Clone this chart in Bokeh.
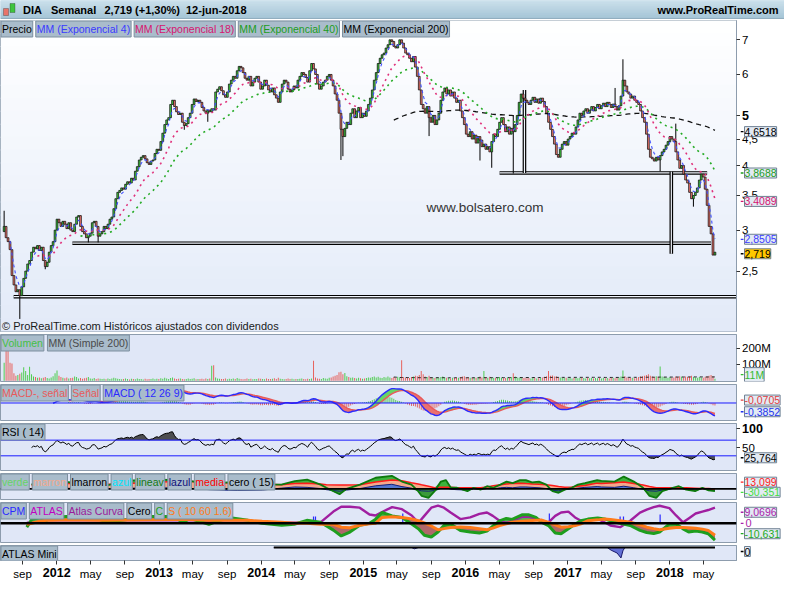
import numpy as np
import pandas as pd
from bokeh.plotting import figure
from bokeh.models import (Range1d, FixedTicker, Label, BoxAnnotation, Span, ColumnDataSource, GridBox,
                          DatetimeAxis)
from bokeh.embed import file_html
from bokeh.resources import INLINE

# ======================= DATA =======================
first_week = "2011-06-27"
first_open = 2.98
closes = [
    3.05, 2.90, 2.85, 2.75, 2.45, 2.35, 2.28, 2.30, 2.24, 2.33,
    2.42, 2.50, 2.58, 2.62, 2.72, 2.78, 2.76, 2.80, 2.74, 2.78,
    2.62, 2.55, 2.60, 2.72, 2.80, 2.85, 3.00, 3.15, 3.10, 3.05,
    3.12, 3.08, 3.02, 3.10, 3.00, 2.98, 3.08, 3.18, 3.20, 3.05,
    2.98, 2.95, 2.90, 2.92, 2.96, 3.10, 3.12, 3.05, 2.92, 2.95,
    2.98, 3.05, 3.02, 3.08, 3.15, 3.18, 3.30, 3.45, 3.55, 3.58,
    3.62, 3.60, 3.68, 3.72, 3.70, 3.78, 3.75, 3.90, 3.98, 4.10,
    4.15, 4.18, 4.12, 4.05, 4.02, 4.08, 4.10, 4.22, 4.30, 4.28,
    4.45, 4.62, 4.80, 4.90, 4.95, 5.25, 5.35, 5.20, 5.08, 5.02,
    5.05, 4.85, 4.78, 4.82, 4.95, 5.05, 5.25, 5.38, 5.32, 5.35,
    5.30, 5.18, 5.10, 5.05, 5.12, 5.08, 5.15, 5.12, 5.55, 5.62,
    5.68, 5.58, 5.48, 5.42, 5.55, 5.75, 5.85, 5.95, 5.90, 6.10,
    6.22, 6.18, 6.05, 5.90, 5.85, 5.95, 5.70, 5.80, 5.90, 5.95,
    5.80, 5.62, 5.70, 5.85, 5.72, 5.60, 5.55, 5.65, 5.48, 5.40,
    5.30, 5.55, 5.75, 5.85, 5.80, 5.62, 5.55, 5.60, 5.70, 5.65,
    5.85, 5.95, 6.05, 6.00, 5.92, 5.80, 6.10, 6.30, 6.15, 6.00,
    5.75, 5.62, 5.70, 5.80, 5.85, 5.95, 6.00, 5.85, 5.70, 5.50,
    5.35, 5.05, 4.70, 4.55, 4.72, 4.85, 4.80, 5.05, 5.15, 4.95,
    5.10, 5.18, 4.95, 5.05, 4.98, 5.10, 5.25, 5.40, 5.60, 5.85,
    6.05, 6.30, 6.45, 6.55, 6.60, 6.75, 6.85, 7.00, 6.95, 6.80,
    6.75, 6.85, 7.00, 6.90, 6.75, 6.60, 6.55, 6.45, 6.35, 6.50,
    6.20, 5.95, 5.60, 5.25, 5.15, 5.05, 5.20, 4.95, 4.85, 5.00,
    4.80, 4.90, 5.05, 5.35, 5.55, 5.65, 5.50, 5.60, 5.45, 5.55,
    5.40, 5.30, 5.35, 5.10, 4.95, 4.80, 4.60, 4.55, 4.65, 4.50,
    4.58, 4.42, 4.55, 4.48, 4.35, 4.40, 4.30, 4.35, 4.25, 4.45,
    4.60, 4.55, 4.70, 4.85, 4.95, 4.80, 4.65, 4.75, 4.60, 4.72,
    4.65, 4.80, 5.00, 5.30, 5.50, 5.40, 5.35, 5.30, 5.25, 5.35,
    5.42, 5.30, 5.38, 5.28, 5.40, 5.32, 5.20, 5.05, 4.85, 4.70,
    4.55, 4.40, 4.20, 4.15, 4.30, 4.40, 4.45, 4.38, 4.50, 4.55,
    4.62, 4.60, 4.75, 4.90, 5.05, 5.00, 5.10, 5.15, 5.05, 5.12,
    5.20, 5.10, 5.18, 5.25, 5.15, 5.22, 5.28, 5.20, 5.30, 5.25,
    5.18, 5.26, 5.20, 5.12, 5.22, 5.45, 5.85, 5.70, 5.55, 5.50,
    5.40, 5.45, 5.35, 5.30, 5.25, 5.10, 4.95, 4.85, 4.60, 4.30,
    4.15, 4.12, 4.08, 4.15, 4.10, 4.18, 4.25, 4.30, 4.38, 4.45,
    4.55, 4.50, 4.45, 4.25, 4.10, 3.95, 4.00, 3.85, 3.75, 3.70,
    3.55, 3.45, 3.50, 3.55, 3.62, 3.75, 3.85, 3.80, 3.60, 3.35,
    3.05, 2.95, 2.684, 2.719,
]
volumes_m = [
    110, 240, 215, 110, 105, 45, 30, 35, 42, 50,
    82, 60, 35, 86, 40, 25, 22, 18, 20, 15,
    18, 22, 16, 14, 20, 28, 45, 63, 30, 22,
    18, 15, 20, 14, 16, 18, 25, 22, 14, 16,
    12, 15, 18, 22, 14, 12, 16, 10, 14, 12,
    10, 12, 9, 14, 11, 13, 18, 15, 12, 10,
    9, 11, 14, 10, 8, 12, 10, 9, 13, 11,
    10, 8, 12, 9, 11, 10, 14, 9, 12, 10,
    15, 12, 18, 14, 11, 16, 20, 13, 10, 12,
    14, 10, 9, 11, 13, 10, 12, 15, 9, 11,
    10, 12, 9, 14, 11, 13, 92, 95, 20, 14,
    12, 10, 11, 13, 9, 12, 10, 14, 11, 16,
    12, 10, 9, 11, 13, 10, 12, 9, 11, 10,
    14, 12, 10, 9, 13, 11, 10, 12, 15, 11,
    18, 12, 10, 9, 11, 13, 10, 12, 9, 11,
    10, 12, 14, 11, 9, 12, 10, 13, 123, 20,
    14, 12, 11, 16, 13, 12, 18, 20, 25, 30,
    35, 52, 55, 40, 48, 28, 22, 18, 20, 16,
    14, 18, 15, 12, 13, 16, 20, 18, 22, 25,
    20, 24, 18, 16, 22, 19, 25, 20, 17, 22,
    18, 24, 20, 125, 22, 18, 20, 16, 22, 25,
    30, 28, 35, 60, 40, 25, 22, 30, 20, 18,
    16, 20, 18, 22, 25, 20, 18, 16, 14, 18,
    16, 20, 18, 22, 25, 28, 20, 22, 18, 16,
    20, 18, 22, 25, 20, 60, 22, 18, 24, 20,
    18, 16, 20, 22, 18, 15, 17, 20, 16, 22,
    45, 25, 20, 18, 22, 16, 18, 15, 17, 14,
    16, 18, 14, 15, 17, 20, 24, 28, 60, 30,
    32, 25, 28, 22, 20, 18, 16, 18, 15, 17,
    14, 16, 18, 15, 17, 20, 16, 14, 18, 15,
    16, 14, 17, 15, 18, 14, 16, 15, 17, 14,
    16, 18, 15, 17, 20, 25, 63, 28, 20, 18,
    16, 18, 15, 17, 22, 25, 28, 30, 35, 40,
    30, 25, 22, 28, 24, 88, 26, 22, 20, 18,
    22, 18, 20, 25, 22, 28, 24, 20, 26, 22,
    25, 30, 22, 20, 18, 22, 20, 18, 24, 28,
    30, 35, 28, 12,
]
wick_high = {0: 3.27, 260: 5.00, 312: 5.65, 316: 6.42, 343: 4.82}
wick_low = {8: 2.02, 21: 2.52, 43: 2.84, 48: 2.84, 92: 4.69, 104: 4.86, 172: 4.10,
            173: 4.17, 217: 4.56, 243: 4.09, 249: 3.96, 260: 3.86, 335: 3.90, 352: 3.33}

# drawn support lines / rectangles
hline_levels = [2.23, 2.83, 3.87]
hline_from = ["2011-07-31", "2012-02-26", "2016-05-02"]
hline_to = ["2018-09-30", "2018-05-28", "2018-05-14"]
vline_dates = ["2016-07-30", "2018-01-06"]
vline_hi = [5.60, 3.89]
vline_lo = [3.87, 2.70]

# "verde / marron ..." panel
verde_dates = ["2011-10-03", "2012-01-02", "2012-04-02", "2012-07-02", "2012-10-01", "2013-01-07",
               "2013-04-01", "2013-07-01", "2013-10-07", "2014-01-06", "2014-03-14", "2014-05-01",
               "2014-06-14", "2014-08-01", "2014-08-22", "2014-10-08", "2014-11-02", "2014-12-20",
               "2015-02-14", "2015-04-13", "2015-05-19", "2015-06-22", "2015-07-16", "2015-07-28",
               "2015-08-22", "2015-09-13", "2015-10-05", "2015-10-23", "2015-11-10", "2015-12-02",
               "2016-01-08", "2016-01-30", "2016-02-24", "2016-03-18", "2016-04-10", "2016-05-05",
               "2016-05-27", "2016-06-18", "2016-07-14", "2016-08-04", "2016-08-26", "2016-09-20",
               "2016-10-16", "2016-11-07", "2016-11-29", "2016-12-21", "2017-01-15", "2017-02-06",
               "2017-03-03", "2017-03-25", "2017-04-16", "2017-05-01", "2017-06-17", "2017-07-20",
               "2017-08-25", "2017-09-27", "2017-10-20", "2017-11-13", "2017-12-05", "2018-01-11",
               "2018-02-02", "2018-02-28", "2018-04-01", "2018-04-27", "2018-05-19", "2018-06-11"]
lineav_vals = [12, 20, 14, 10, 22, 24, 22, 14, 18, 12, 11, 20, 24, 11, 3, -14, 0, 11, 29, 34, 19, 11,
               -6, -18, -23, -6, 19, 23, 3, 3, -6, 3, -2, 7, 3, 11, 19, 15, 23, 23, 17, 19, 11, -6,
               -10, -2, 3, 11, 15, 19, 23, 21, 19, 32, 19, 3, -18, -23, -6, 3, 7, -2, -6, 3, -4, -6]
media_vals = [10, 14, 15, 12, 15, 18, 20, 17, 15, 13, 11, 14, 15, 13, 11, 10, 10, 11, 18, 23, 21, 16,
              13, 11, 7, 3, 4, 4, 4, 3, 3, 3, 3, 5, 8, 11, 13, 14, 15, 14, 13, 12, 11, 9, 6, 4, 5, 7,
              9, 12, 15, 14, 16, 18, 14, 10, 6, 3, 3, 3, 3, 3, 2, 1, 1, 0]
azul_vals = [0, 2, 1, 0, 2, 3, 2, -2, -4, -3, 2, 5, 4, 1, -2, -6, -3, 1, 8, 12, 6, 2, -3, -5, -6, -4,
             2, 3, -1, -2, -3, 0, -1, 1, 0, 3, 4, 3, 5, 5, 4, 3, 1, -4, -5, -2, 0, 2, 4, 5, 6, 5, 4,
             7, 3, -1, -5, -6, -3, 1, 2, 0, -3, 1, -2, -4]

# CPM / ATLAS panel
cpm_line_dates = ["2011-09-16", "2011-10-04", "2011-11-01", "2011-11-25", "2011-12-16", "2012-02-04",
                  "2012-05-30", "2012-07-03", "2012-11-20", "2013-02-16", "2013-03-30", "2013-04-20",
                  "2013-06-28", "2013-09-06", "2013-11-15", "2014-01-04", "2014-03-15", "2014-04-29",
                  "2014-06-13", "2014-08-01", "2014-09-16", "2014-10-14", "2014-11-14", "2014-12-19",
                  "2015-01-23", "2015-02-13", "2015-03-09", "2015-04-14", "2015-05-19", "2015-06-23",
                  "2015-07-17", "2015-08-07", "2015-09-01", "2015-09-25", "2015-10-16", "2015-11-09",
                  "2015-12-14", "2016-01-18", "2016-02-20", "2016-03-18", "2016-04-08", "2016-05-02",
                  "2016-05-26", "2016-06-16", "2016-07-21", "2016-08-15", "2016-09-09", "2016-09-30",
                  "2016-10-24", "2016-11-17", "2016-12-08", "2017-01-03", "2017-01-27", "2017-02-17",
                  "2017-03-14", "2017-04-18", "2017-05-12", "2017-06-02", "2017-07-07", "2017-08-12",
                  "2017-09-16", "2017-10-10", "2017-11-04", "2017-11-25", "2017-12-30", "2018-01-23",
                  "2018-02-17", "2018-03-09", "2018-04-03", "2018-04-27", "2018-05-18", "2018-06-11"]
c_vals = [-4, 4, 6, 3, 6, 7, 4, 1, 7, 7, 1, 5, -1, 6, 3, 0, -2, -1, 3, 1, -7, -13, -9, -2, 0, 4, 11,
          7.6, 6, -0.7, -5.7, -12.3, -14, -9, -2.3, -0.7, -7.3, -9, -10, -8, -3, 2.5, 5, 4, 8.7, 8.7,
          6, 1, -2.3, -10, -10.7, -5.7, -0.7, 2.6, 4.3, 5.5, 4.5, 2.6, 0, -2.3, -7.3, -9.5, -10.5, -9,
          -0.7, -0.7, -5.7, -9, -8, -9, -10.7, -17.3]
s_vals = [-1, 0, 2, 3, 3, 3.5, 3, 3, 3.5, 4, 4, 4, 3, 3, 3, 2, 1, 0, 0, -1, -1, -4, -4.5, -2, -0.5, 0,
          6, 6.6, 6, 4.5, 2.6, 0.5, -2.8, -6.6, -5.5, -4.3, -3.7, -4.3, -5.5, -6.6, -5, -2.3, -0.5, 1,
          2, 2.6, 3, 3.3, 1, -1.5, -4, -3.5, -2.3, -0.5, 2.6, 3.5, 4.3, 4, 2.6, 1, -1.5, -4, -5.5,
          -6.6, -5, -4.3, -4.3, -4.5, -5.2, -6, -7.3, -12.3]
atlas_vals = [0.5, 0.5, 0.5, 0.5, 0.5, 0.5, 0.5, 0.5, 0.5, 0.5, 0.5, 0.5, 0.5, 0.5, 0.5, 0.5, 0.5, 0.5,
              0.5, 1, 12, 17, 17, 16, 9, 8, 11.6, 16.6, 14.5, 8, 0.5, 7.6, 16, 18, 16, 11, 4.3, 6,
              9.6, 11, 7.6, 2.6, 0.5, 2.6, 6.6, 6.6, 5, 2.6, 1, 7.6, 11, 12, 6, 2.6, 2.6, 4.5, 1,
              -2.3, -4, 2.6, 11, 14, 16.6, 18, 15.5, 8, 1, 5, 10, 12, 13.6, 16]
cpm_dates = ["2014-07-07", "2014-07-14", "2015-05-22", "2016-07-15", "2016-10-27", "2017-02-14",
             "2017-03-01", "2017-03-15", "2017-07-07", "2017-07-19", "2017-11-27"]
cpm_heights = [7, 7, 10, 3, 10, 4, 4, 4, 7, 7, 9]

# ATLAS Mini
mini_dates = ["2014-02-15", "2015-06-22", "2015-07-03", "2015-07-17", "2017-05-22", "2017-06-05",
              "2017-06-26", "2017-07-10", "2017-07-17", "2017-07-24", "2018-06-11"]
mini_vals = [0, 0, -0.12, 0, 0, -0.25, -0.5, -0.95, -0.3, 0, 0]

# axis ticks
month_ticks = ["2011-09-01", "2012-05-01", "2012-09-01", "2013-05-01", "2013-09-01", "2014-05-01",
               "2014-09-01", "2015-05-01", "2015-09-01", "2016-05-01", "2016-09-01", "2017-05-01",
               "2017-09-01", "2018-05-01"]
month_names = ["sep", "may", "sep", "may", "sep", "may", "sep", "may", "sep", "may", "sep", "may",
               "sep", "may"]
year_ticks = ["2012-01-01", "2013-01-01", "2014-01-01", "2015-01-01", "2016-01-01", "2017-01-01",
              "2018-01-01"]
year_names = ["2012", "2013", "2014", "2015", "2016", "2017", "2018"]
price_ticks = [2.5, 3, 3.5, 4, 4.5, 5, 6, 7]
price_tick_labels = ["2,5", "3", "3,5", "4", "4,5", "5", "6", "7"]
vol_ticks = [100, 200]
vol_tick_labels = ["100M", "200M"]
rsi_ticks = [50, 100]
rsi_tick_labels = ["50", "100"]

# ======================= STYLE / LAYOUT =======================
FONT = "Liberation Sans"
FW = 736          # plot frame width
AXW = 4           # room for the right-hand tick marks
SW = 44           # right-hand value column
FRAME_C = "#8d9cad"
SUB_BG = "#e0e7f7"
LEG_BG = "#a9bccb"
LEG_BORDER = "#7d8f9f"
VAL_BG = "#e3eaf3"
VAL_BORDER = "#6f8193"
DAY = 86400000
GEOM = {"main": (20, 343, 311), "vol": (346, 394, 47), "macd": (397, 434, 36), "rsi": (437, 485, 47),
        "verde": (488, 515, 26), "cpm": (518, 559, 40), "mini": (562, 577, 15)}

AW = {' ': 278, '(': 333, ')': 333, ',': 278, '-': 333, '.': 278, '%': 889, '+': 584,
      'A': 667, 'B': 667, 'C': 722, 'D': 722, 'E': 667, 'I': 278, 'L': 556, 'M': 833, 'N': 722,
      'O': 778, 'P': 667, 'R': 722, 'S': 667, 'T': 611, 'U': 722, 'V': 667,
      'a': 556, 'b': 556, 'c': 500, 'd': 556, 'e': 556, 'f': 278, 'g': 556, 'h': 556, 'i': 222,
      'j': 222, 'k': 500, 'l': 222, 'm': 833, 'n': 556, 'o': 556, 'p': 556, 'q': 556, 'r': 333,
      's': 500, 't': 278, 'u': 556, 'v': 500, 'w': 722, 'x': 500, 'y': 500, 'z': 500, 'ñ': 556}


def text_w(s, size):
    return sum(AW.get(ch, 556) for ch in s) * size / 1000.0


def to_ms(ds):
    return np.array([pd.Timestamp(d).value // 10**6 for d in ds], dtype=np.int64)


def ys(key, yref):
    T, B, H = GEOM[key]
    return (B - yref) * H / (B - T)


def yd(key, yr, yref):
    """reference pixel row -> data value of a linear panel"""
    H = GEOM[key][2]
    return yr.start + ys(key, yref) / H * (yr.end - yr.start)


def hexmix(c1, c2, f):
    a = [int(c1[i:i + 2], 16) for i in (1, 3, 5)]
    b = [int(c2[i:i + 2], 16) for i in (1, 3, 5)]
    return "#%02x%02x%02x" % tuple(int(round(a[k] + (b[k] - a[k]) * f)) for k in range(3))


def gradient(p, fh, top, bottom, n=24):
    for k in range(n):
        y1 = fh * (1 - k / n) + 0.5
        y0 = fh * (1 - (k + 1) / n) - 0.5
        p.add_layout(BoxAnnotation(bottom=y0, top=y1, bottom_units="screen", top_units="screen",
                                   fill_color=hexmix(top, bottom, (k + 0.5) / n), fill_alpha=1.0,
                                   line_color=None, level="underlay"))


def lab(p, text, x, y, color="#000000", size=11, bold=False, xu="screen", yu="screen",
        align="left", base="middle", bg=None, border=None, pad=None):
    kw = dict(x=x, y=y, x_units=xu, y_units=yu, text=text, text_color=color, text_font=FONT,
              text_font_size="%spx" % size, text_font_style="bold" if bold else "normal",
              text_align=align, text_baseline=base)
    if bg is not None:
        kw.update(background_fill_color=bg, background_fill_alpha=1.0)
    if border is not None:
        kw.update(border_line_color=border, border_line_width=1)
    if pad is not None:
        kw["padding"] = pad
    p.add_layout(Label(**kw))


def legend_boxes(p, key, items, size=10.5):
    H = GEOM[key][2]
    x = 0.5
    for text, color in items:
        w = text_w(text, size) + 4
        lab(p, text, x, H - 0.5, color=color, size=size, base="top", bg=LEG_BG, border=LEG_BORDER,
            pad=(1, 2))
        x += w + 1


def vbox(sp, text, y, color, bg=VAL_BG, tick=True):
    """value box in the right-hand column; y in data units of that panel"""
    if tick:
        sp.segment(x0=[0], y0=[y], x1=[3.0 / SW], y1=[y], line_color=color, line_width=1.3)
    lab(sp, text, 4, y, color=color, size=10.5, yu="data", bg=bg, border=VAL_BORDER, pad=(0, 1))


XR = Range1d(int(pd.Timestamp("2011-06-14").value // 10**6), int(pd.Timestamp("2018-08-27").value // 10**6))


def panel(key, y_range, bg=SUB_BG, log=False, xaxis=False, ticks=()):
    H = GEOM[key][2]
    p = figure(frame_width=FW, frame_height=H, x_range=XR, y_range=y_range,
               x_axis_type="datetime", y_axis_type="log" if log else "linear",
               x_axis_location="below" if xaxis else None, y_axis_location="right",
               toolbar_location=None, output_backend="svg",
               min_border_left=0, min_border_right=AXW, min_border_top=1,
               min_border_bottom=0 if xaxis else 2,
               background_fill_color=bg, border_fill_color="#ffffff",
               outline_line_color=FRAME_C, outline_line_width=1)
    p.xgrid.grid_line_color = None
    p.ygrid.grid_line_color = None
    ya = p.yaxis[0]
    ya.axis_line_color = FRAME_C
    ya.major_tick_line_color = "#333333"
    ya.major_tick_out = 4
    ya.major_tick_in = 0
    ya.minor_tick_line_color = None
    ya.major_label_standoff = 0
    ya.major_label_text_font_size = "1px"
    ya.ticker = FixedTicker(ticks=list(ticks), minor_ticks=[])
    ya.major_label_overrides = {t: "" for t in ticks}
    return p


def side(key, y_range, log=False):
    H = GEOM[key][2]
    sp = figure(frame_width=SW, frame_height=H, x_range=Range1d(0, 1), y_range=y_range,
                y_axis_type="log" if log else "linear", x_axis_location=None, y_axis_location=None,
                toolbar_location=None, output_backend="svg", min_border_left=0, min_border_right=0,
                min_border_top=1, min_border_bottom=2, background_fill_color="#ffffff",
                border_fill_color="#ffffff", outline_line_color=None)
    sp.xgrid.grid_line_color = None
    sp.ygrid.grid_line_color = None
    return sp


def tick_texts(sp, ticks, labels, bold_label=None):
    for t, l in zip(ticks, labels):
        b = (l == bold_label)
        lab(sp, l, 1.5, t, yu="data", size=12.5 if b else 11.5, bold=b)


# ======================= COMPUTATIONS =======================
c = np.array(closes, dtype=float)
o = np.concatenate([[first_open], c[:-1]])
dates = pd.date_range(first_week, periods=len(c), freq="7D")
xd = dates.values.astype("datetime64[ms]").astype(np.int64)
body_top = np.maximum(o, c)
body_bot = np.minimum(o, c)
hi = body_top.copy()
lo = body_bot.copy()
for i, v in wick_high.items():
    hi[i] = max(hi[i], v)
for i, v in wick_low.items():
    lo[i] = min(lo[i], v)
up = c >= o
cndl_colors = np.where(up, "#3ec43e", "#e8736a")
vol_colors = np.where(up, "#4ccc4c", "#e8605a")
s = pd.Series(c)


def ema_disp(n):
    e = s.ewm(span=n, adjust=False).mean().values.copy()
    e[:n - 1] = np.nan
    return e


ema4, ema18, ema40, ema200 = ema_disp(4), ema_disp(18), ema_disp(40), ema_disp(200)

macd = (s.ewm(span=12, adjust=False).mean() - s.ewm(span=26, adjust=False).mean()).values
sig = pd.Series(macd).ewm(span=9, adjust=False).mean().values
hist = macd - sig

d = np.diff(c, prepend=np.nan)
gain = pd.Series(np.where(d > 0, d, 0.0))
loss = pd.Series(np.where(d < 0, -d, 0.0))
ag = gain.ewm(alpha=1 / 14, adjust=False).mean()
al = loss.ewm(alpha=1 / 14, adjust=False).mean()
rsi = (100 - 100 / (1 + ag / al)).values.copy()
rsi[:14] = np.nan

vol = np.array(volumes_m, dtype=float)
vol_ma = pd.Series(vol).rolling(200).mean().values

# ======================= HEADER =======================
HW = FW + AXW + SW
hdr = figure(width=HW, height=19, x_range=Range1d(0, 1), y_range=Range1d(0, 1),
             x_axis_location=None, y_axis_location=None, toolbar_location=None, output_backend="svg",
             min_border=0, outline_line_color=None, background_fill_color="#b5d2e1",
             border_fill_color="#b5d2e1")
try:
    hdr.frame_align = False
except Exception:
    pass
hdr.xgrid.grid_line_color = None
hdr.ygrid.grid_line_color = None
gradient(hdr, 19, "#cce1ec", "#a3c3d5", n=10)
hdr.add_layout(BoxAnnotation(bottom=0, top=1, bottom_units="screen", top_units="screen",
                             fill_color="#7f98a8", fill_alpha=1, line_color=None))
hdr.add_layout(BoxAnnotation(left=3, right=8, bottom=4, top=11, left_units="screen", right_units="screen",
                             bottom_units="screen", top_units="screen", fill_color="#e8736a",
                             fill_alpha=1, line_color="#222222", line_width=1))
hdr.add_layout(BoxAnnotation(left=9.5, right=14.5, bottom=7, top=16, left_units="screen", right_units="screen",
                             bottom_units="screen", top_units="screen", fill_color="#3ec43e",
                             fill_alpha=1, line_color="#222222", line_width=1))
for txt, xx in [("DIA", 22.5), ("Semanal", 50.5), ("2,719 (+1,30%)", 104), ("12-jun-2018", 185.5)]:
    lab(hdr, txt, xx, 9.5, size=11, bold=True)
lab(hdr, "www.ProRealTime.com", HW - 6, 9.5, size=11, bold=True, align="right")

# ======================= MAIN PRICE PANEL =======================
main_yr = Range1d(1.91, 7.63)
pm = panel("main", main_yr, bg="#f2f6fd", log=True, ticks=price_ticks)
pm_s = side("main", main_yr, log=True)
gradient(pm, GEOM["main"][2], "#ffffff", "#e2eaf8")
tick_texts(pm_s, price_ticks, price_tick_labels, bold_label="5")

hx0, hx1 = to_ms(hline_from), to_ms(hline_to)
lv = np.array(hline_levels)
pm.segment(x0=hx0, y0=lv, x1=hx1, y1=lv, line_color="#000000", line_width=3.6)
pm.segment(x0=hx0, y0=lv, x1=hx1, y1=lv, line_color="#f1f5fc", line_width=1.2)
vx = to_ms(vline_dates)
pm.segment(x0=vx, y0=np.array(vline_lo), x1=vx, y1=np.array(vline_hi), line_color="#000000", line_width=3.6)
pm.segment(x0=vx, y0=np.array(vline_lo), x1=vx, y1=np.array(vline_hi), line_color="#f1f5fc", line_width=1.2)

src = ColumnDataSource(dict(x=xd, top=body_top, bottom=body_bot, hi=hi, lo=lo, fc=cndl_colors))
pm.segment(x0="x", y0="lo", x1="x", y1="hi", source=src, line_color="#000000", line_width=1)
pm.vbar(x="x", width=6.5 * DAY, top="top", bottom="bottom", fill_color="fc", line_color="#111111",
        line_width=0.7, source=src)

pm.line(xd, ema200, line_color="#111111", line_width=1.3, line_dash="5 4")
pm.line(xd, ema40, line_color="#22aa22", line_width=1.6, line_dash="2 4")
pm.line(xd, ema18, line_color="#e0307a", line_width=1.6, line_dash="2 4")
pm.line(xd, ema4, line_color="#4050ff", line_width=1.1, line_dash="3 3")

lab(pm, "www.bolsatero.com", 426, ys("main", 214), color="#333333", size=13.5)
lab(pm, "\u00a9 ProRealTime.com  Hist\u00f3ricos ajustados con dividendos", 1.5, ys("main", 337),
    color="#1a1a1a", size=11)
legend_boxes(pm, "main", [("Precio", "#000000"), ("MM (Exponencial 4)", "#3a3aff"),
                          ("MM (Exponencial 18)", "#d6156f"), ("MM (Exponencial 40)", "#1c9c1c"),
                          ("MM (Exponencial 200)", "#000000")])
vbox(pm_s, "4,6518", 4.6518, "#000000")
vbox(pm_s, "3,8688", 3.8688, "#1c9c1c")
vbox(pm_s, "3,4089", 3.4089, "#d6156f")
vbox(pm_s, "2,8505", 2.8800, "#3a3aff")
vbox(pm_s, "2,719", 2.70, "#000000", bg="#ffc800")

# ======================= VOLUME =======================
vol_yr = Range1d(-5, 284)
pv = panel("vol", vol_yr, ticks=vol_ticks)
pv_s = side("vol", vol_yr)
tick_texts(pv_s, vol_ticks, vol_tick_labels)
pv.vbar(x=xd, width=3.5 * DAY, top=vol, bottom=0, fill_color=vol_colors, line_color=None)
pv.line(xd, vol_ma, line_color="#222222", line_width=1, line_dash="3 3")
legend_boxes(pv, "vol", [("Volumen", "#44c044"), ("MM (Simple 200)", "#4a4a4a")])
vbox(pv_s, "11M", yd("vol", vol_yr, 387), "#33bb33")

# ======================= MACD =======================
macd_yr = Range1d(-0.514, 0.543)
pmc = panel("macd", macd_yr)
pmc_s = side("macd", macd_yr)
sl = slice(33, None)
pmc.add_layout(Span(location=0, dimension="width", line_color="#1a1aff", line_width=1))
pmc.vbar(x=xd[sl], width=3 * DAY, top=hist[sl], bottom=0,
         fill_color=np.where(hist[sl] >= 0, "#3cc43c", "#e05050"), line_color=None)
pmc.varea(x=xd[sl], y1=sig[sl], y2=np.maximum(macd[sl], sig[sl]), fill_color="#66d466")
pmc.varea(x=xd[sl], y1=sig[sl], y2=np.minimum(macd[sl], sig[sl]), fill_color="#ea7070")
pmc.line(xd[sl], sig[sl], line_color="#e85a5a", line_width=1.4)
pmc.line(xd[25:], macd[25:], line_color="#2a2aff", line_width=1.4)
legend_boxes(pmc, "macd", [("MACD-, se\u00f1al", "#e85a5a"), ("Se\u00f1al", "#e85a5a"),
                           ("MACD ( 12 26 9)", "#2a2aff")])
vbox(pmc_s, "-0,0705", yd("macd", macd_yr, 413), "#e04040")
vbox(pmc_s, "-0,3852", yd("macd", macd_yr, 425), "#2233ee")

# ======================= RSI =======================
rsi_yr = Range1d(-7.5, 112.5)
pr = panel("rsi", rsi_yr, ticks=rsi_ticks)
pr_s = side("rsi", rsi_yr)
tick_texts(pr_s, rsi_ticks, rsi_tick_labels, bold_label="100")
rr = np.nan_to_num(rsi, nan=50.0)
pr.varea(x=xd[14:], y1=70, y2=np.maximum(rr[14:], 70), fill_color="#333333", fill_alpha=0.85)
pr.varea(x=xd[14:], y1=30, y2=np.minimum(rr[14:], 30), fill_color="#333333", fill_alpha=0.85)
pr.add_layout(Span(location=70, dimension="width", line_color="#1a1aff", line_width=1))
pr.add_layout(Span(location=30, dimension="width", line_color="#1a1aff", line_width=1))
pr.line(xd, rsi, line_color="#000000", line_width=1)
legend_boxes(pr, "rsi", [("RSI ( 14)", "#000000")])
vbox(pr_s, "25,764", yd("rsi", rsi_yr, 472), "#000000")

# ======================= VERDE / MARRON =======================
verde_yr = Range1d(-27.5, 40)
pvd = panel("verde", verde_yr)
pvd_s = side("verde", verde_yr)
vdx = to_ms(verde_dates)
la = np.array(lineav_vals, dtype=float)
me = np.array(media_vals, dtype=float)
az = np.array(azul_vals, dtype=float)
pvd.varea(x=vdx, y1=0, y2=np.maximum(me, 0), fill_color="#f4a98c")
pvd.varea(x=vdx, y1=0, y2=az, fill_color="#3f6fd6", fill_alpha=0.9)
pvd.varea(x=vdx, y1=me, y2=np.maximum(la, me), fill_color="#3db33d")
pvd.varea(x=vdx, y1=0, y2=np.minimum(la, 0), fill_color="#3a9a3a")
pvd.add_layout(Span(location=0, dimension="width", line_color="#000000", line_width=1.6))
pvd.line(vdx, az, line_color="#14207a", line_width=1)
pvd.line(vdx, me, line_color="#ff1a1a", line_width=1.5)
pvd.line(vdx, la, line_color="#0d7a0d", line_width=1.8)
legend_boxes(pvd, "verde", [("verde", "#66d466"), ("marron", "#f4a98c"), ("lmarron", "#000000"),
                            ("azul", "#00e5ff"), ("lineav", "#137a13"), ("lazul", "#10107a"),
                            ("media", "#ff0000"), ("cero ( 15)", "#000000")])
vbox(pvd_s, "13,099", yd("verde", verde_yr, 497), "#ff2020")
vbox(pvd_s, "-30,351", yd("verde", verde_yr, 507.5), "#44dd44")

# ======================= CPM / ATLAS =======================
cpm_yr = Range1d(-19.7, 21.3)
pc = panel("cpm", cpm_yr)
pc_s = side("cpm", cpm_yr)
cx = to_ms(cpm_line_dates)
cv = np.array(c_vals, dtype=float)
sv = np.array(s_vals, dtype=float)
av = np.array(atlas_vals, dtype=float)
pc.varea(x=cx, y1=sv, y2=np.minimum(cv, sv), fill_color="#a65050", fill_alpha=0.85)
pc.varea(x=cx, y1=sv, y2=np.maximum(cv, sv), fill_color="#3fae3f", fill_alpha=0.9)
pc.add_layout(Span(location=0, dimension="width", line_color="#000000", line_width=2.5))
spx = to_ms(cpm_dates)
pc.segment(x0=spx, y0=0, x1=spx, y1=np.array(cpm_heights, dtype=float), line_color="#2a2aff", line_width=1.2)
pc.line(cx, av, line_color="#a01fa0", line_width=2.4)
pc.line(cx, cv, line_color="#1e9e1e", line_width=3)
pc.line(cx, sv, line_color="#ff7b1a", line_width=3)
legend_boxes(pc, "cpm", [("CPM", "#2a2aff"), ("ATLAS", "#c000c0"), ("Atlas Curva", "#9a1a9a"),
                         ("Cero", "#000000"), ("C", "#1ea01e"), ("S ( 10 60 1.6)", "#ff7b1a")])
vbox(pc_s, "9,0696", yd("cpm", cpm_yr, 528), "#aa22aa")
pc_s.segment(x0=[0], y0=[0], x1=[3.0 / SW], y1=[0], line_color="#aa22aa", line_width=1.3)
lab(pc_s, "0", 5, 0, yu="data", color="#aa22aa", size=11)
vbox(pc_s, "-10,631", yd("cpm", cpm_yr, 550), "#22aa22")

# ======================= ATLAS MINI + DATE AXIS =======================
mini_yr = Range1d(-1.18, 0.18)
pa = panel("mini", mini_yr, xaxis=True)
pa_s = side("mini", mini_yr)
mx = to_ms(mini_dates)
mv = np.array(mini_vals, dtype=float)
pa.varea(x=mx, y1=0, y2=mv, fill_color="#5563d0", fill_alpha=0.9)
pa.line(mx, mv, line_color="#1a1a6a", line_width=1)
pa.segment(x0=mx[:1], y0=[0], x1=mx[-1:], y1=[0], line_color="#000000", line_width=1.8)
legend_boxes(pa, "mini", [("ATLAS Mini", "#000000")])
vbox(pa_s, "0", yd("mini", mini_yr, 568), "#000000")
mt = to_ms(month_ticks)
yt = to_ms(year_ticks)
# axis 1: tick marks at every label + month names
xa = pa.xaxis[0]
xa.ticker = FixedTicker(ticks=sorted([int(v) for v in mt] + [int(v) for v in yt]), minor_ticks=[])
ovx = {int(t): n for t, n in zip(mt, month_names)}
ovx.update({int(t): "" for t in yt})
xa.major_label_overrides = ovx
xa.axis_line_color = FRAME_C
xa.major_tick_line_color = "#333333"
xa.major_tick_out = 4
xa.major_tick_in = 0
xa.minor_tick_line_color = None
xa.major_label_text_font = FONT
xa.major_label_text_font_size = "11.5px"
xa.major_label_text_color = "#000000"
xa.major_label_standoff = 3
# axis 2: bold year names, pulled up onto the same line as the month names
xa2 = DatetimeAxis(ticker=FixedTicker(ticks=[int(v) for v in yt], minor_ticks=[]),
                   major_label_overrides={int(t): n for t, n in zip(yt, year_names)},
                   axis_line_color=None, major_tick_line_color=None, minor_tick_line_color=None,
                   major_tick_out=0, major_tick_in=0, major_label_standoff=-15,
                   major_label_text_font=FONT, major_label_text_font_size="12.5px",
                   major_label_text_font_style="bold", major_label_text_color="#000000")
pa.add_layout(xa2, "below")

rows = [(pm, pm_s), (pv, pv_s), (pmc, pmc_s), (pr, pr_s), (pvd, pvd_s), (pc, pc_s), (pa, pa_s)]
children = [(hdr, 0, 0, 1, 2)]
for r, (a, b) in enumerate(rows, start=1):
    children.append((a, r, 0))
    children.append((b, r, 1))
layout = GridBox(children=children, spacing=0)
open("out.html", "w").write(file_html(layout, INLINE, title="DIA Semanal"))
